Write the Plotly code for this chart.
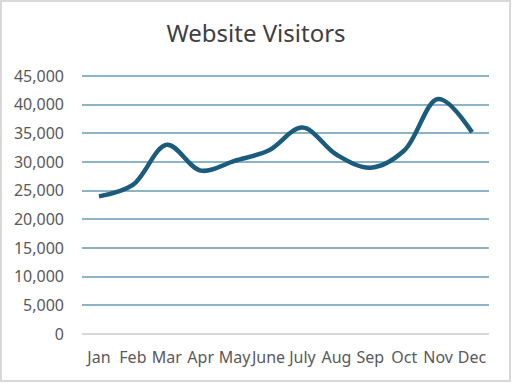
import plotly.graph_objects as go

months = ["Jan", "Feb", "Mar", "Apr", "May", "June", "July", "Aug", "Sep", "Oct", "Nov", "Dec"]
visitors = [24000, 26000, 33000, 28500, 30200, 32000, 36000, 31300, 29000, 32000, 41000, 35200]
y_ticks = [0, 5000, 10000, 15000, 20000, 25000, 30000, 35000, 40000, 45000]
y_labels = ["0", "5,000", "10,000", "15,000", "20,000", "25,000", "30,000", "35,000", "40,000", "45,000"]

W, H = 512, 383
L, R, T, B = 82, 489, 74, 334
y_top = 45000 * (B - T) / 258.0

fig = go.Figure()
fig.add_trace(go.Scatter(
    x=months, y=visitors, mode="lines",
    line=dict(color="#1B5B7C", width=4.5, shape="spline", smoothing=1.0),
    hoverinfo="skip",
))

def px(p):
    return (p - L) / (R - L)

def py(q):
    return (B - q) / (B - T)

fig.update_layout(
    width=W, height=H,
    margin=dict(l=L, r=W - R, t=T, b=H - B),
    paper_bgcolor="white", plot_bgcolor="white",
    showlegend=False,
    title=dict(text="Website Visitors", x=0.5, xanchor="center", y=1 - 34 / H, yanchor="middle",
               font=dict(family="Noto Sans", size=24, color="#404040")),
    font=dict(family="Noto Sans", color="#595959", size=16),
    xaxis=dict(type="category", range=[-0.5, 11.5], showgrid=False, showline=False, zeroline=False,
               ticks="", tickangle=0, automargin=False,
               tickfont=dict(size=16, color="#595959"), ticklabelstandoff=12),
    yaxis=dict(range=[0, y_top], tickvals=y_ticks, ticktext=y_labels, showgrid=True,
               gridcolor="#8FB3C6", gridwidth=1.5, zeroline=True, zerolinecolor="#D9D9D9",
               zerolinewidth=1.5, showline=False, ticks="", automargin=False,
               tickfont=dict(size=16, color="#595959"), ticklabelstandoff=17),
    shapes=[dict(type="rect", xref="paper", yref="paper",
                 x0=px(1), x1=px(510), y0=py(381), y1=py(1),
                 line=dict(color="#D9D9D9", width=2), fillcolor="rgba(0,0,0,0)", layer="below")],
)

fig.write_html("out.html")
